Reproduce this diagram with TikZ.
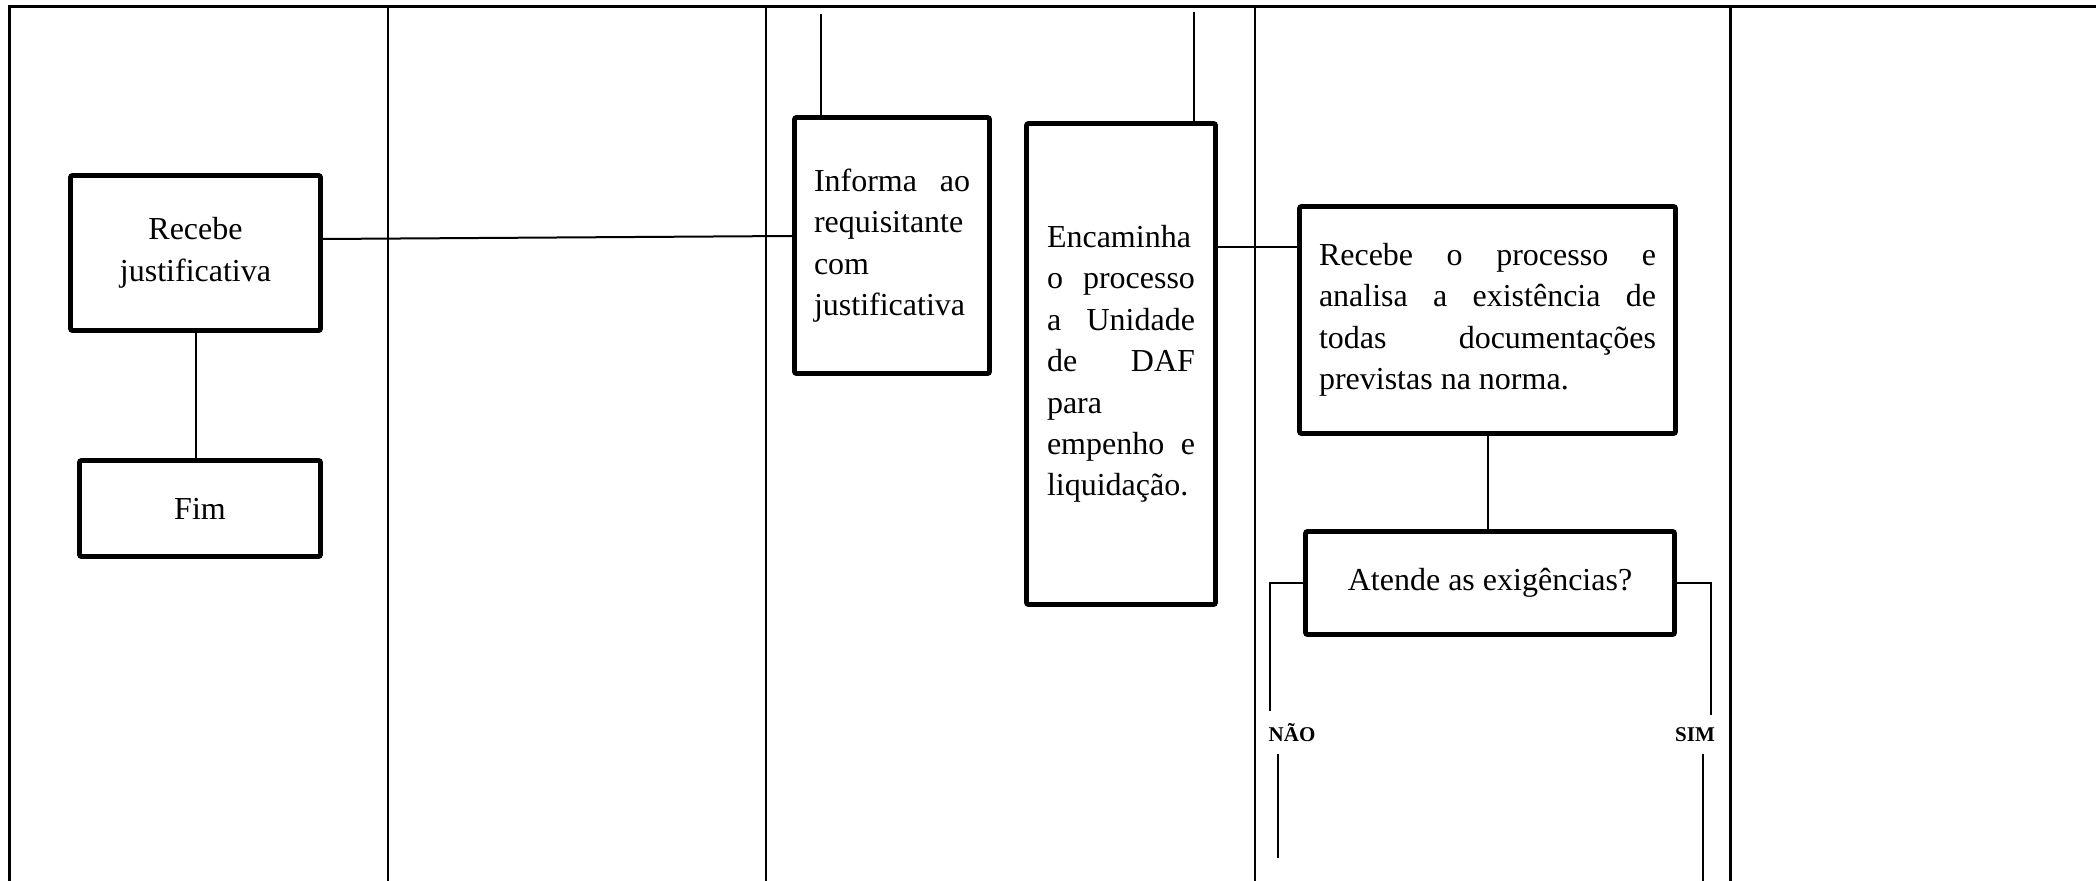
\documentclass[tikz,border=0pt]{standalone}
\usepackage{fontspec}
\setmainfont{Liberation Serif}
\tolerance=10000
\hbadness=10000
\hyphenpenalty=10000

\begin{document}
\begin{tikzpicture}[x=0.5pt,y=-0.5pt,
   box/.style={draw,line width=2.4pt,rounded corners=1pt,inner sep=0pt,
     font=\fontsize{16}{20.7}\selectfont},
   lbl/.style={anchor=base,inner sep=6pt,font=\fontsize{10.5}{12}\selectfont\bfseries},
   lane/.style={line width=1pt},
   link/.style={line width=1pt}]
\useasboundingbox (0,0) rectangle (2096,881);
\draw[lane,line width=1.5pt] (9,881) -- (9,7) -- (2096,7);
\foreach \x in {388,766,1255}
  \draw[lane] (\x,7) -- (\x,881);
\draw[lane,line width=1.5pt] (1730,7) -- (1730,881);

\node[box,align=center,minimum width=125pt,minimum height=77.5pt] (rj) at (195.5,253)
  {Recebe\\justificativa};
\node[box,minimum width=120.5pt,minimum height=48pt] (fim) at (200,508.5) {Fim};
\node[box,text width=78pt,align=justify,minimum width=97.5pt,minimum height=128pt] (inf) at (892,245.5)
  {Informa ao\linebreak requisitante\linebreak com\linebreak justificativa};
\node[box,text width=74pt,align=justify,minimum width=94.5pt,minimum height=240.5pt] (enc) at (1121,364)
  {Encaminha\linebreak o processo\linebreak a Unidade\linebreak de DAF\linebreak para\linebreak empenho e\linebreak liquidação.};
\node[box,text width=168.5pt,align=justify,minimum width=188pt,minimum height=113.5pt] (rp) at (1487.5,320)
  {Recebe o processo e\linebreak analisa a existência de\linebreak todas documentações\linebreak previstas na norma.};
\node[box,minimum width=184.5pt,minimum height=51.5pt] (at) at (1490,583) {Atende as exigências?};
\node[lbl] (nao) at (1292,741) {NÃO};
\node[lbl] (sim) at (1695,741) {SIM};

\coordinate (infIn) at (821,14);
\coordinate (encIn) at (1194,12);
\coordinate (e1) at ([yshift=36.5pt]rp.west);
\draw[link] ([yshift=7pt]rj.east) -- ([yshift=4.75pt]inf.west);
\draw[link] (rj.south) -- (rj.south |- fim.north);
\draw[link] (infIn) -- (infIn |- inf.north);
\draw[link] (encIn) -- (encIn |- enc.north);
\draw[link] (e1) -- (e1 -| enc.east);
\draw[link] (rp.south) -- (rp.south |- at.north);
\draw[link] (at.west) -- ++(-33,0) coordinate (n1) -- (n1 |- nao.north);
\draw[link] ([xshift=-7pt]nao.south) -- ++(0,104);
\draw[link] (at.east) -- ++(34,0) coordinate (s1) -- (s1 |- sim.north);
\draw[link] ([xshift=4pt]sim.south) -- ++(0,140);
\end{tikzpicture}
\end{document}
